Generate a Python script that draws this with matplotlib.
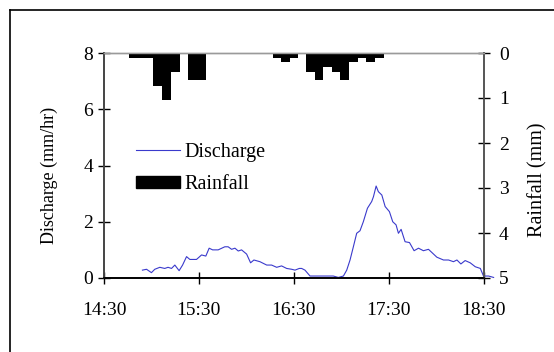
import matplotlib
matplotlib.use("Agg")
import matplotlib.pyplot as plt
from matplotlib.lines import Line2D
from matplotlib.patches import Patch

plt.rcParams["font.family"] = ["Liberation Serif", "DejaVu Serif"]

# Time axis: minutes after 14:30
tick_minutes = [0, 60, 120, 180, 240]
tick_labels = ["14:30", "15:30", "16:30", "17:30", "18:30"]

# Discharge (mm/hr)
discharge_min = [24.3, 26.9, 30.0, 32.1, 35.3, 38.4, 40.5, 42.7, 44.8, 47.5,
                 49.7, 52.2, 54.3, 58.5, 61.7, 64.4, 66.5, 68.7, 72.2, 76.4,
                 78.5, 80.7, 82.8, 84.9, 87.0, 90.2, 92.7, 94.8, 98.6, 102.9,
                 106.0, 109.2, 112.3, 115.5, 118.7, 120.8, 123.5, 125.0, 127.1, 130.3,
                 136.6, 145.0, 148.2, 151.4, 153.5, 155.6, 157.7, 159.8, 161.9, 164.0,
                 166.6, 169.3, 170.4, 172.1, 173.5, 175.7, 177.8, 180.5, 182.6, 184.7,
                 186.2, 187.9, 190.4, 193.2, 196.1, 198.9, 202.0, 205.2, 210.5, 214.7,
                 217.9, 221.0, 223.2, 225.7, 228.4, 231.6, 234.8, 238.0, 240.0, 243.2,
                 246.4]
discharge = [0.28, 0.31, 0.19, 0.31, 0.38, 0.34, 0.38, 0.34, 0.46, 0.26,
             0.46, 0.76, 0.66, 0.66, 0.82, 0.78, 1.06, 1.00, 1.00, 1.11,
             1.11, 1.02, 1.06, 0.96, 1.00, 0.85, 0.54, 0.64, 0.58, 0.46,
             0.46, 0.38, 0.43, 0.34, 0.31, 0.28, 0.34, 0.34, 0.28, 0.07,
             0.07, 0.07, 0.02, 0.07, 0.28, 0.64, 1.11, 1.59, 1.68, 2.00,
             2.48, 2.72, 2.89, 3.27, 3.07, 2.95, 2.54, 2.36, 2.00, 1.89,
             1.59, 1.73, 1.29, 1.26, 0.97, 1.06, 0.97, 1.02, 0.74, 0.64,
             0.64, 0.58, 0.64, 0.50, 0.62, 0.54, 0.40, 0.34, 0.07, 0.07,
             0.02]

# Rainfall (mm) per interval
rain_start = [16.0, 31.2, 36.9, 42.4, 53.4,
              106.6, 111.9, 117.8,
              127.7, 133.2, 138.6, 144.1, 149.5, 155.0, 160.4, 165.9, 171.3]
rain_end = [31.2, 36.9, 42.4, 48.1, 64.6,
            111.9, 117.8, 123.0,
            133.2, 138.6, 144.1, 149.5, 155.0, 160.4, 165.9, 171.3, 176.8]
rain = [0.11, 0.73, 1.04, 0.42, 0.61,
        0.11, 0.20, 0.11,
        0.42, 0.61, 0.31, 0.42, 0.61, 0.20, 0.11, 0.20, 0.11]

W, H = 554, 352
fig = plt.figure(figsize=(W / 100, H / 100), dpi=100)

# outer frame
fig.add_artist(Line2D([10 / W, 10 / W], [1 - 10 / H, 0], transform=fig.transFigure,
                      color="black", lw=1.2))
fig.add_artist(Line2D([10 / W, 1], [1 - 10 / H, 1 - 10 / H], transform=fig.transFigure,
                      color="black", lw=1.2))

left, right = 104 / W, 483.5 / W
bottom, top = 1 - 278 / H, 1 - 53 / H
ax = fig.add_axes([left, bottom, right - left, top - bottom])
ax2 = ax.twinx()

ax.plot(discharge_min, discharge, color="#3a3acc", lw=0.8, clip_on=False, zorder=3)
ax.set_xlim(0, 240)
ax.set_ylim(0, 8)
ax.set_yticks([0, 2, 4, 6, 8])
ax.set_xticks(tick_minutes)
ax.set_xticklabels(tick_labels)
ax.set_ylabel("Discharge (mm/hr)", fontsize=13)
ax.yaxis.set_label_coords(-0.121, 0.458)

widths = [e - s for s, e in zip(rain_start, rain_end)]
ax2.bar(rain_start, rain, width=widths, align="edge", color="black", linewidth=0)
ax2.set_ylim(5, 0)
ax2.set_yticks([0, 1, 2, 3, 4, 5])
ax2.set_ylabel("Rainfall (mm)", fontsize=14.5)
ax2.yaxis.set_label_coords(1.117, 0.436)

for a in (ax, ax2):
    a.tick_params(direction="inout", length=8, width=1, labelsize=14, colors="black")
    a.set_facecolor("none")
ax.tick_params(axis="x", pad=13)
ax.tick_params(axis="y", pad=4)
ax2.tick_params(axis="y", pad=7)

for a in (ax, ax2):
    a.spines["top"].set_color("#9a9a9a")
    a.spines["top"].set_linewidth(1)
    a.spines["left"].set_color("#444444")
    a.spines["right"].set_color("#555555")
    a.spines["bottom"].set_color("black")
    a.spines["left"].set_linewidth(1.2)
    a.spines["right"].set_linewidth(1.2)
    a.spines["bottom"].set_linewidth(1.2)

handles = [Line2D([], [], color="#3a3acc", lw=0.8),
           Patch(facecolor="black", edgecolor="black")]
ax.legend(handles, ["Discharge", "Rainfall"], loc="upper left",
          bbox_to_anchor=(136 / W, 1 - 143 / H), bbox_transform=fig.transFigure,
          frameon=False, fontsize=14.5, handlelength=2.2, handleheight=0.55,
          handletextpad=0.2, labelspacing=0.65, borderpad=0, borderaxespad=0)

fig.savefig("out.png", dpi=100)
